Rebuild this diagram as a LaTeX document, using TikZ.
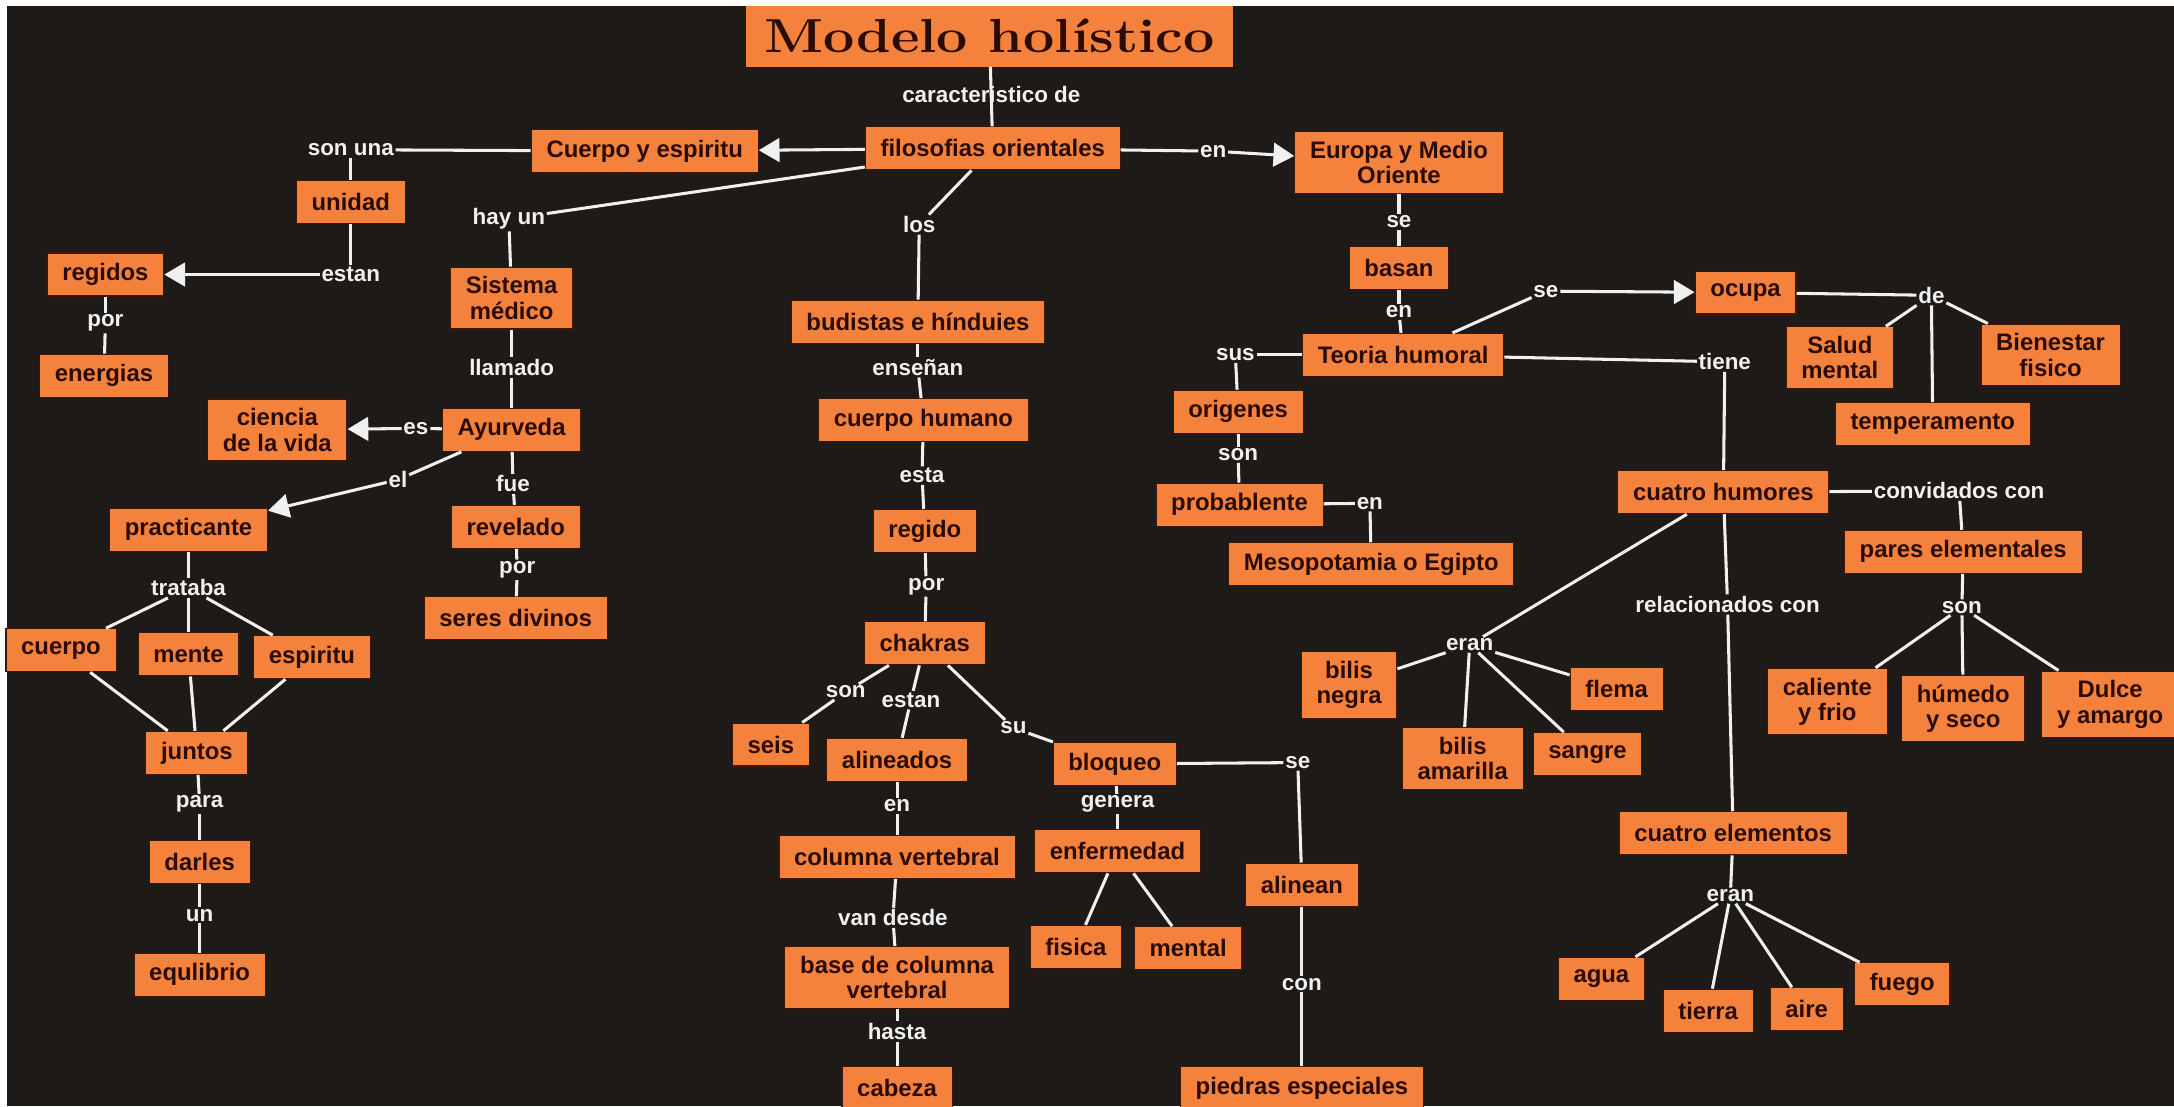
\documentclass[tikz,border=0pt]{standalone}
\usepackage{fontspec}
\usepackage{graphicx}
\usepackage{tikz}
\usetikzlibrary{arrows.meta}
\newfontfamily\mapsans{Liberation Sans}
\definecolor{mapbg}{HTML}{1E1A17}
\definecolor{maporange}{HTML}{F4823C}
\definecolor{mapink}{HTML}{2A0C04}
\definecolor{mapedge}{HTML}{3B1707}
\definecolor{linkgray}{HTML}{F0F0F0}

\begin{document}
\begin{tikzpicture}[x=0.5mm, y=-0.5mm,
  concept/.style={fill=maporange, draw=mapedge, line width=0.4mm, text=mapink, align=center,
                  font=\mapsans\bfseries\fontsize{24.5pt}{26pt}\selectfont,
                  inner xsep=5.5mm, inner ysep=3.4mm, minimum height=15.5mm},
  titlebox/.style={fill=maporange, text=mapink, minimum width=175.5mm, minimum height=22mm,
                   font=\bfseries\fontsize{49pt}{50pt}\selectfont},
  link/.style={text=linkgray, inner sep=0.6mm, font=\mapsans\bfseries\fontsize{23pt}{25pt}\selectfont},
  con/.style={draw=linkgray, line width=1.1mm},
  arr/.style={con, -{Triangle[length=7.5mm, width=8.5mm]}}
]
  \useasboundingbox (0,0) rectangle (1568,798);
  \fill[white] (0,0) rectangle (1568,798);
  \fill[mapbg] (5,4.3) rectangle (1568,798);

  % conceptos
  \node[titlebox] (title) at (713.7,26) {\scalebox{1.16}[1]{Modelo holístico}};
  \node[concept] (filo)     at (716,107) {filosofias orientales};
  \node[concept] (cye)      at (465,109) {Cuerpo y espiritu};
  \node[concept] (europa)   at (1009,117) {Europa y Medio\\Oriente};
  \node[concept] (unidad)   at (253,146) {unidad};
  \node[concept] (regidos)  at (76,198) {regidos};
  \node[concept] (energias) at (75,271) {energias};
  \node[concept] (sistema)  at (369,215) {Sistema\\médico};
  \node[concept] (ayurveda) at (369,310) {Ayurveda};
  \node[concept] (ciencia)  at (200,310) {ciencia\\de la vida};
  \node[concept] (practicante) at (136,382) {practicante};
  \node[concept] (revelado) at (372,380) {revelado};
  \node[concept] (seres)    at (372,446) {seres divinos};
  \node[concept] (cuerpo)   at (44,469) {cuerpo};
  \node[concept] (mente)    at (136,472) {mente};
  \node[concept] (espiritu) at (225,474) {espiritu};
  \node[concept] (juntos)   at (142,543) {juntos};
  \node[concept] (darles)   at (144,622) {darles};
  \node[concept] (equlibrio) at (144,703) {equlibrio};

  \node[concept] (budistas) at (662,232) {budistas e hínduies};
  \node[concept] (cuerpoh)  at (666,303) {cuerpo humano};
  \node[concept] (regido)   at (667,383) {regido};
  \node[concept] (chakras)  at (667,464) {chakras};
  \node[concept] (seis)     at (556,537) {seis};
  \node[concept] (alineados) at (647,548) {alineados};
  \node[concept] (columna)  at (647,618) {columna vertebral};
  \node[concept] (base)     at (647,705) {base de columna\\vertebral};
  \node[concept] (cabeza)   at (647,785) {cabeza};
  \node[concept] (bloqueo)  at (804,551) {bloqueo};
  \node[concept] (enfermedad) at (806,614) {enfermedad};
  \node[concept] (fisica)   at (776,683) {fisica};
  \node[concept] (mental)   at (857,684) {mental};
  \node[concept] (alinean)  at (939,638) {alinean};
  \node[concept] (piedras)  at (939,785) {piedras especiales};

  \node[concept] (basan)    at (1009,193) {basan};
  \node[concept] (teoria)   at (1012,256) {Teoria humoral};
  \node[concept] (ocupa)    at (1259,211) {ocupa};
  \node[concept] (salud)    at (1327,258) {Salud\\mental};
  \node[concept] (bienestar) at (1479,256) {Bienestar\\fisico};
  \node[concept] (temperamento) at (1394,306) {temperamento};
  \node[concept] (origenes) at (893,297) {origenes};
  \node[concept] (probable) at (894,364) {probablente};
  \node[concept] (meso)     at (989,407) {Mesopotamia o Egipto};
  \node[concept] (humores)  at (1243,355) {cuatro humores};
  \node[concept] (pares)    at (1416,398) {pares elementales};
  \node[concept] (caliente) at (1318,506) {caliente\\y frio};
  \node[concept] (humedo)   at (1416,511) {húmedo\\y seco};
  \node[concept] (dulce)    at (1522,508) {Dulce\\y amargo};
  \node[concept] (negra)    at (973,494) {bilis\\negra};
  \node[concept] (amarilla) at (1055,547) {bilis\\amarilla};
  \node[concept] (sangre)   at (1145,544) {sangre};
  \node[concept] (flema)    at (1166,497) {flema};
  \node[concept] (elementos) at (1250,601) {cuatro elementos};
  \node[concept] (agua)     at (1155,706) {agua};
  \node[concept] (tierra)   at (1232,729) {tierra};
  \node[concept] (aire)     at (1303,728) {aire};
  \node[concept] (fuego)    at (1372,710) {fuego};

  % frases de enlace
  \node[link] (lcar)     at (715,68)  {caracteristico de};
  \node[link] (lsonuna)  at (253,108) {son una};
  \node[link] (lenA)     at (875,109) {en};
  \node[link] (lhayun)   at (367,158) {hay un};
  \node[link] (llos)     at (663,162) {los};
  \node[link] (lestan)   at (253,198) {estan};
  \node[link] (lporA)    at (76,233)  {por};
  \node[link] (lllamado) at (369,265) {llamado};
  \node[link] (les)      at (300,309) {es};
  \node[link] (lel)      at (287,346) {el};
  \node[link] (lfue)     at (370,349) {fue};
  \node[link] (lporB)    at (373,411) {por};
  \node[link] (ltrataba) at (136,424) {trataba};
  \node[link] (lpara)    at (144,580) {para};
  \node[link] (lun)      at (144,660) {un};
  \node[link] (lensenan) at (662,265) {enseñan};
  \node[link] (lesta)    at (665,343) {esta};
  \node[link] (lporC)    at (668,423) {por};
  \node[link] (lsonA)    at (610,499) {son};
  \node[link] (lestanB)  at (657,505) {estan};
  \node[link] (lsu)      at (731,525) {su};
  \node[link] (lenB)     at (647,581) {en};
  \node[link] (lvan)     at (644,662) {van desde};
  \node[link] (lhasta)   at (647,744) {hasta};
  \node[link] (lgenera)  at (806,580) {genera};
  \node[link] (lseA)     at (936,550) {se};
  \node[link] (lcon)     at (939,710) {con};
  \node[link] (lseB)     at (1009,160) {se};
  \node[link] (lenC)     at (1009,225) {en};
  \node[link] (lseC)     at (1115,210) {se};
  \node[link] (lde)      at (1393,213) {de};
  \node[link] (lsus)     at (891,256) {sus};
  \node[link] (lsonB)    at (893,328) {son};
  \node[link] (lenD)     at (988,363) {en};
  \node[link] (ltiene)   at (1244,261) {tiene};
  \node[link] (lconv)    at (1413,354) {convidados con};
  \node[link] (lsonC)    at (1415,438) {son};
  \node[link] (leranA)   at (1060,465) {eran};
  \node[link] (lrel)     at (1246,436) {relacionados con};
  \node[link] (leranB)   at (1248,646) {eran};

  % conectores
  \draw[con] (title) -- (filo);
  \draw[arr] (filo) -- (cye);
  \draw[con] (filo) -- (lenA);
  \draw[arr] (lenA) -- (europa);
  \draw[con] (cye) -- (lsonuna);
  \draw[con] (lsonuna) -- (unidad);
  \draw[con] (unidad) -- (lestan);
  \draw[arr] (lestan) -- (regidos);
  \draw[con] (regidos) -- (lporA);
  \draw[con] (lporA) -- (energias);
  \draw[con] (filo) -- (lhayun);
  \draw[con] (lhayun) -- (sistema);
  \draw[con] (sistema) -- (lllamado);
  \draw[con] (lllamado) -- (ayurveda);
  \draw[con] (ayurveda) -- (les);
  \draw[arr] (les) -- (ciencia);
  \draw[con] (ayurveda) -- (lel);
  \draw[arr] (lel) -- (practicante);
  \draw[con] (ayurveda) -- (lfue);
  \draw[con] (lfue) -- (revelado);
  \draw[con] (revelado) -- (lporB);
  \draw[con] (lporB) -- (seres);
  \draw[con] (practicante) -- (ltrataba);
  \draw[con] (ltrataba) -- (cuerpo);
  \draw[con] (ltrataba) -- (mente);
  \draw[con] (ltrataba) -- (espiritu);
  \draw[con] (cuerpo) -- (juntos);
  \draw[con] (mente) -- (juntos);
  \draw[con] (espiritu) -- (juntos);
  \draw[con] (juntos) -- (lpara);
  \draw[con] (lpara) -- (darles);
  \draw[con] (darles) -- (lun);
  \draw[con] (lun) -- (equlibrio);

  \draw[con] (filo) -- (llos);
  \draw[con] (llos) -- (budistas);
  \draw[con] (budistas) -- (lensenan);
  \draw[con] (lensenan) -- (cuerpoh);
  \draw[con] (cuerpoh) -- (lesta);
  \draw[con] (lesta) -- (regido);
  \draw[con] (regido) -- (lporC);
  \draw[con] (lporC) -- (chakras);
  \draw[con] (chakras) -- (lsonA);
  \draw[con] (lsonA) -- (seis);
  \draw[con] (chakras) -- (lestanB);
  \draw[con] (lestanB) -- (alineados);
  \draw[con] (chakras) -- (lsu);
  \draw[con] (lsu) -- (bloqueo);
  \draw[con] (alineados) -- (lenB);
  \draw[con] (lenB) -- (columna);
  \draw[con] (columna) -- (lvan);
  \draw[con] (lvan) -- (base);
  \draw[con] (base) -- (lhasta);
  \draw[con] (lhasta) -- (cabeza);
  \draw[con] (bloqueo) -- (lgenera);
  \draw[con] (lgenera) -- (enfermedad);
  \draw[con] (enfermedad) -- (fisica);
  \draw[con] (enfermedad) -- (mental);
  \draw[con] (bloqueo) -- (lseA);
  \draw[con] (lseA) -- (alinean);
  \draw[con] (alinean) -- (lcon);
  \draw[con] (lcon) -- (piedras);

  \draw[con] (europa) -- (lseB);
  \draw[con] (lseB) -- (basan);
  \draw[con] (basan) -- (lenC);
  \draw[con] (lenC) -- (teoria);
  \draw[con] (teoria) -- (lseC);
  \draw[arr] (lseC) -- (ocupa);
  \draw[con] (ocupa) -- (lde);
  \draw[con] (lde) -- (salud);
  \draw[con] (lde) -- (temperamento);
  \draw[con] (lde) -- (bienestar);
  \draw[con] (teoria) -- (lsus);
  \draw[con] (lsus) -- (origenes);
  \draw[con] (origenes) -- (lsonB);
  \draw[con] (lsonB) -- (probable);
  \draw[con] (probable) -- (lenD);
  \draw[con] (lenD) -- (meso);
  \draw[con] (teoria) -- (ltiene);
  \draw[con] (ltiene) -- (humores);
  \draw[con] (humores) -- (lconv);
  \draw[con] (lconv) -- (pares);
  \draw[con] (pares) -- (lsonC);
  \draw[con] (lsonC) -- (caliente);
  \draw[con] (lsonC) -- (humedo);
  \draw[con] (lsonC) -- (dulce);
  \draw[con] (humores) -- (leranA);
  \draw[con] (leranA) -- (negra);
  \draw[con] (leranA) -- (amarilla);
  \draw[con] (leranA) -- (sangre);
  \draw[con] (leranA) -- (flema);
  \draw[con] (humores) -- (lrel);
  \draw[con] (lrel) -- (elementos);
  \draw[con] (elementos) -- (leranB);
  \draw[con] (leranB) -- (agua);
  \draw[con] (leranB) -- (tierra);
  \draw[con] (leranB) -- (aire);
  \draw[con] (leranB) -- (fuego);
\end{tikzpicture}
\end{document}
